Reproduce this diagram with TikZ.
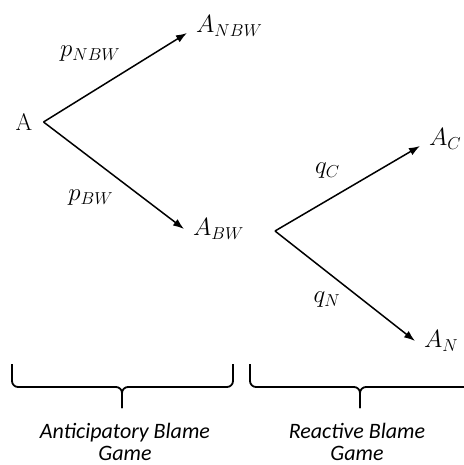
\documentclass[tikz,border=0pt]{standalone}
\usepackage{fontspec}
\newfontfamily\gamefont{Carlito}
\usetikzlibrary{positioning,arrows.meta}

\begin{document}
\begin{tikzpicture}[
  x=1pt, y=-1pt,
  outcome/.style={inner xsep=9pt, inner ysep=1pt, font=\fontsize{24}{28}\selectfont},
  arr/.style={-{Latex[length=11pt,width=8pt]}, line width=1.5pt},
  lbl/.style={font=\fontsize{24}{28}\selectfont, inner sep=1pt, midway},
  brace/.style={line width=1.8pt, rounded corners=6pt},
  game/.style={align=center, inner sep=0pt, font=\gamefont\itshape\fontsize{22}{22}\selectfont}
]
\useasboundingbox (0,0) rectangle (463,465);

% anticipatory stage
\node[outcome, inner xsep=2pt] (a) at (24,122) {$\mathrm{A}$};
\coordinate[right=9pt of a] (root);
\node[outcome, anchor=base west] (nbw) at (187,33) {$A_{NBW}$};
\node[outcome, anchor=west] (bw) at (184,229) {$A_{BW}$};

% reactive stage
\coordinate (fork) at (275,231);
\node[outcome, anchor=base west] (ac) at (420,146) {$A_{C}$};
\node[outcome, anchor=west] (an) at (415,341) {$A_{N}$};

\draw[arr] (root) -- node[lbl, xshift=-25pt, yshift=24pt] {$p_{NBW}$} (nbw.base west);
\draw[arr] (root) -- node[lbl, xshift=-23pt, yshift=-22pt] {$p_{BW}$} (bw.west);
\draw[arr] (fork) -- node[lbl, xshift=-20pt, yshift=18pt] {$q_{C}$} (ac.base west);
\draw[arr] (fork) -- node[lbl, xshift=-18pt, yshift=-14pt] {$q_{N}$} (an.west);

% braces
\coordinate (ltip) at (122,408);
\coordinate (rtip) at (360,408);
\draw[brace] (12,364) |- (122,387) -- (ltip);
\draw[brace] (233,364) |- (122,387) -- (ltip);
\draw[brace] (250,364) |- (360,387) -- (rtip);
\draw[brace] (480,364) |- (360,387) -- (rtip);

\node[game, below=15pt of ltip, xshift=3pt] (antic) {Anticipatory Blame\\Game};
\node[game, below=15pt of rtip, xshift=-3pt] (react) {Reactive Blame\\Game};
\end{tikzpicture}
\end{document}
